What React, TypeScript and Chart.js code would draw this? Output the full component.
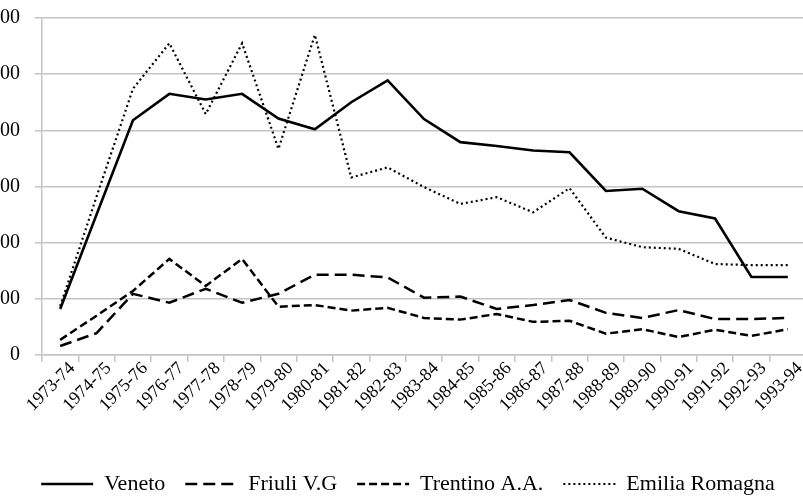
import React, { useEffect, useRef } from 'react';
import { Chart, registerables } from 'chart.js';

Chart.register(...registerables);

const categories = [
  '1973-74', '1974-75', '1975-76', '1976-77', '1977-78', '1978-79', '1979-80',
  '1980-81', '1981-82', '1982-83', '1983-84', '1984-85', '1985-86', '1986-87',
  '1987-88', '1988-89', '1989-90', '1990-91', '1991-92', '1992-93', '1993-94',
];

const veneto = [82, 250, 418, 465, 455, 465, 421, 402, 450, 489, 420, 379, 372, 364, 361, 292, 296, 256, 243, 139, 139];
const friuli = [16, 39, 109, 93, 118, 93, 109, 143, 143, 138, 102, 104, 82, 89, 98, 75, 66, 80, 64, 64, 66];
const trentino = [27, 70, 114, 171, 123, 171, 86, 89, 79, 84, 66, 63, 73, 59, 61, 38, 46, 32, 45, 34, 46];
const emilia = [87, 282, 474, 555, 429, 555, 367, 570, 316, 334, 299, 269, 281, 254, 297, 209, 192, 189, 162, 160, 160];

const yTicksMax = 600;
const yStep = 100;

const FONT = '"Liberation Serif", "Times New Roman", serif';

export default function App() {
  const ref = useRef<HTMLCanvasElement>(null);

  useEffect(() => {
    if (!ref.current) return;
    const chart = new Chart(ref.current, {
      type: 'line',
      data: {
        labels: categories,
        datasets: [
          { label: 'Veneto', data: veneto, borderColor: '#000', borderWidth: 2.6, borderDash: [], pointRadius: 0, pointStyle: 'line', fill: false, tension: 0 },
          { label: 'Friuli V.G', data: friuli, borderColor: '#000', borderWidth: 2.5, borderDash: [12, 6], pointRadius: 0, pointStyle: 'line', fill: false, tension: 0 },
          { label: 'Trentino A.A.', data: trentino, borderColor: '#000', borderWidth: 2.5, borderDash: [8, 4], pointRadius: 0, pointStyle: 'line', fill: false, tension: 0 },
          { label: 'Emilia Romagna', data: emilia, borderColor: '#000', borderWidth: 2.2, borderDash: [2, 3], pointRadius: 0, pointStyle: 'line', fill: false, tension: 0 },
        ],
      },
      options: {
        animation: false,
        responsive: false,
        layout: { autoPadding: false, padding: { top: 18, left: 20, right: 0, bottom: 0 } },
        plugins: {
          tooltip: { enabled: false },
          legend: {
            position: 'bottom',
            labels: {
              usePointStyle: true,
              pointStyleWidth: 52,
              boxWidth: 52,
              padding: 20,
              color: '#000',
              font: { family: FONT, size: 22 },
              generateLabels: (c: any) =>
                c.data.datasets.map((ds: any, i: number) => ({
                  text: ds.label,
                  fillStyle: 'rgba(0,0,0,0)',
                  strokeStyle: '#000',
                  fontColor: '#000',
                  lineWidth: ds.borderWidth,
                  lineDash: ds.borderDash || [],
                  lineCap: 'butt',
                  pointStyle: 'line',
                  hidden: false,
                  datasetIndex: i,
                })),
            },
          },
        },
        scales: {
          x: {
            type: 'category',
            offset: true,
            grid: { offset: true, drawOnChartArea: false, drawTicks: true, tickLength: 7, color: '#c4c4c4', lineWidth: 1.5 },
            border: { color: '#c4c4c4', width: 1.5 },
            ticks: {
              autoSkip: false,
              minRotation: 45,
              maxRotation: 45,
              labelOffset: 12,
              padding: -4,
              color: '#000',
              font: { family: FONT, size: 18 },
            },
            afterFit: (s: any) => { s.height = 98; },
          },
          y: {
            min: 0,
            max: yTicksMax,
            ticks: {
              stepSize: yStep,
              mirror: true,
              crossAlign: 'far',
              padding: -52,
              color: '#000',
              font: { family: FONT, size: 20 },
            },
            grid: { color: '#c4c4c4', lineWidth: 1.5, tickLength: 7 },
            border: { color: '#c4c4c4', width: 1.5 },
            afterFit: (s: any) => {
              s.width = 32;
              s.paddingTop = 0;
              s.paddingBottom = 0;
            },
          },
        },
      },
    });
    return () => chart.destroy();
  }, []);

  return (
    <div style={{ position: 'fixed', left: 0, top: 0, width: 803, height: 496, overflow: 'hidden', background: '#fff' }}>
      <div style={{ position: 'absolute', left: -10, top: 0 }}>
        <canvas ref={ref} width={816} height={505} style={{ display: 'block' }} />
      </div>
    </div>
  );
}
